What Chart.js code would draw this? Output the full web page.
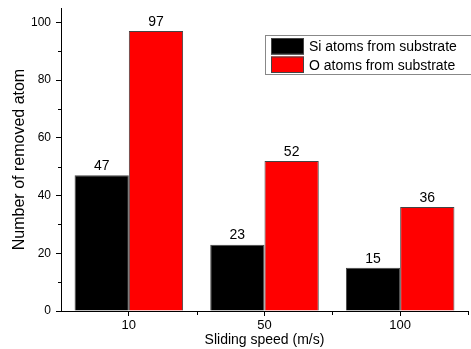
<!DOCTYPE html>
<html>
<head>
<meta charset="utf-8">
<script src="https://cdn.jsdelivr.net/npm/chart.js@4"></script>
<style>
  body { margin: 0; background: #fff; }
  #wrap { width: 471px; height: 349px; }
</style>
</head>
<body>
<div id="wrap"><canvas id="chart"></canvas></div>
<script>
const speeds = ['10', '50', '100'];
const siAtoms = [47, 23, 15];
const oAtoms = [97, 52, 36];
const yTicks = [0, 20, 40, 60, 80, 100];
const yMinorTicks = [10, 30, 50, 70, 90];

const font = 'Arial, "Liberation Sans", sans-serif';

// small outward minor ticks on both axes
const minorTicks = {
  id: 'minorTicks',
  afterDraw(chart) {
    const ctx = chart.ctx;
    const x = chart.scales.x, y = chart.scales.y;
    ctx.save();
    ctx.strokeStyle = '#000';
    ctx.lineWidth = 1;
    ctx.beginPath();
    yMinorTicks.forEach(v => {
      const py = Math.round(y.getPixelForValue(v)) + 0.5;
      ctx.moveTo(x.left - 3, py);
      ctx.lineTo(x.left, py);
    });
    const half = (x.getPixelForValue(1) - x.getPixelForValue(0)) / 2;
    for (let i = 0; i < speeds.length; i++) {
      const px = Math.round(x.getPixelForValue(i) + half) + 0.5;
      ctx.moveTo(px, y.bottom);
      ctx.lineTo(px, y.bottom + 4);
    }
    ctx.stroke();
    ctx.restore();
  }
};

// value above each bar
const barValues = {
  id: 'barValues',
  afterDatasetsDraw(chart) {
    const ctx = chart.ctx;
    ctx.save();
    ctx.fillStyle = '#000';
    ctx.font = '14px ' + font;
    ctx.textAlign = 'center';
    ctx.textBaseline = 'bottom';
    chart.data.datasets.forEach((ds, di) => {
      chart.getDatasetMeta(di).data.forEach((bar, i) => {
        ctx.fillText(ds.data[i], bar.x, bar.y - 2);
      });
    });
    ctx.restore();
  }
};

// boxed legend inside the plot, top right
const boxLegend = {
  id: 'boxLegend',
  afterDraw(chart) {
    const ctx = chart.ctx;
    const left = 265, top = 35, rowH = 18.5;
    const ds = chart.data.datasets;
    ctx.save();
    ctx.fillStyle = '#fff';
    ctx.fillRect(left, top, 230, ds.length * rowH + 2);
    ctx.strokeStyle = '#888';
    ctx.lineWidth = 1;
    ctx.strokeRect(left + 0.5, top + 0.5, 230, ds.length * rowH + 2);
    ctx.font = '14px ' + font;
    ctx.textBaseline = 'middle';
    ds.forEach((d, i) => {
      const ry = top + 3 + i * rowH;
      ctx.fillStyle = d.backgroundColor;
      ctx.fillRect(left + 6, ry, 33, rowH - 2);
      ctx.strokeStyle = '#444';
      ctx.strokeRect(left + 6.5, ry + 0.5, 32, rowH - 3);
      ctx.fillStyle = '#000';
      ctx.fillText(d.label, left + 44, ry + rowH / 2);
    });
    ctx.restore();
  }
};

new Chart(document.getElementById('chart'), {
  type: 'bar',
  data: {
    labels: speeds,
    datasets: [
      {
        label: 'Si atoms from substrate',
        data: siAtoms,
        backgroundColor: '#000000',
        borderColor: '#444',
        borderWidth: 1
      },
      {
        label: 'O atoms from substrate',
        data: oAtoms,
        backgroundColor: '#ff0000',
        borderColor: '#444',
        borderWidth: 1
      }
    ]
  },
  options: {
    responsive: true,
    maintainAspectRatio: false,
    animation: false,
    layout: { padding: { top: 8, right: 3, left: 4, bottom: 0 } },
    plugins: {
      legend: { display: false },
      tooltip: { enabled: false }
    },
    datasets: {
      bar: { categoryPercentage: 0.8, barPercentage: 1 }
    },
    scales: {
      x: {
        offset: true,
        afterFit(scale) { scale.height = 38; scale.paddingLeft = 0; scale.paddingRight = 0; },
        grid: { display: true, drawOnChartArea: false, offset: false, tickLength: 5, color: '#000' },
        border: { display: true, color: '#000', width: 1 },
        ticks: { color: '#000', font: { size: 13, family: font }, padding: 2 },
        title: { display: true, text: 'Sliding speed (m/s)', color: '#000', font: { size: 14, family: font }, padding: { top: 0, bottom: 0 } }
      },
      y: {
        min: 0,
        max: 105,
        afterBuildTicks(scale) { scale.ticks = yTicks.map(v => ({ value: v })); },
        afterFit(scale) { scale.width = 57; scale.paddingTop = 0; scale.paddingBottom = 0; },
        grid: { display: true, drawOnChartArea: false, tickLength: 5, color: '#000' },
        border: { display: true, color: '#000', width: 1 },
        ticks: { color: '#000', font: { size: 12, family: font }, padding: 5 },
        title: { display: true, text: 'Number of removed atom', color: '#000', font: { size: 16, family: font }, padding: { top: 6, bottom: 4 } }
      }
    }
  },
  plugins: [minorTicks, barValues, boxLegend]
});
</script>
</body>
</html>
